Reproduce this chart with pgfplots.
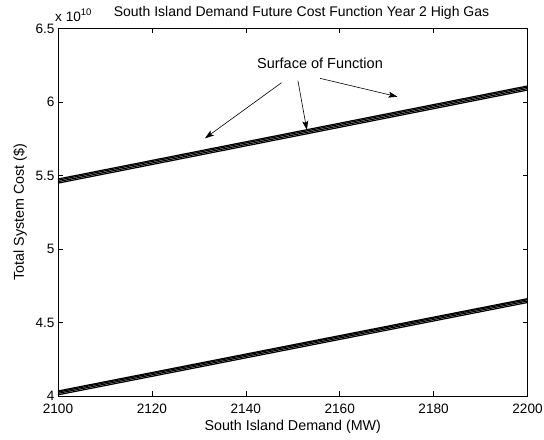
\documentclass[border=0pt]{standalone}
\usepackage{pgfplots}
\pgfplotsset{compat=1.18}
\usepackage{fontspec}
\setmainfont{Liberation Sans}
\usetikzlibrary{arrows.meta}
\begin{document}
\begin{tikzpicture}
\begin{axis}[
  scale only axis,
  width=469.5bp, height=367.5bp,
  xmin=2100, xmax=2200, ymin=4, ymax=6.5,
  xtick={2100,2120,2140,2160,2180,2200},
  ytick={4,4.5,5,5.5,6,6.5},
  scaled ticks=false,
  /pgf/number format/assume math mode=true,
  /pgf/number format/1000 sep={},
  tick align=inside,
  major tick length=5bp,
  axis line style={line width=0.7bp},
  every tick/.style={line width=0.6bp, black},
  font=\fontsize{14bp}{16bp}\selectfont,
  ticklabel style={font=\fontsize{13.6bp}{15bp}\selectfont},
  xticklabel style={yshift=-4bp},
  xlabel={South Island Demand (MW)},
  ylabel={Total System Cost (\$)},
  xlabel style={at={(axis description cs:0.5,-0.0844)}, anchor=center, font=\fontsize{14.3bp}{16bp}\selectfont},
  ylabel style={at={(axis description cs:-0.081,0.5)}, anchor=center, font=\fontsize{14.3bp}{16bp}\selectfont},
  title={South Island Demand Future Cost Function Year 2 High Gas},
  title style={at={(axis description cs:0.5186,1.026)}, anchor=center, font=\fontsize{14bp}{16bp}\selectfont},
  clip mode=individual,
]
% upper band
\addplot[black, line width=1.2bp] coordinates {(2100,5.448) (2200,6.081)};
\addplot[black, line width=1.2bp] coordinates {(2100,5.458) (2200,6.091)};
\addplot[black, line width=1.2bp] coordinates {(2100,5.468) (2200,6.101)};
\addplot[black, line width=1.2bp] coordinates {(2100,5.476) (2200,6.109)};
% lower band
\addplot[black, line width=1.2bp] coordinates {(2100,4.008) (2200,4.636)};
\addplot[black, line width=1.2bp] coordinates {(2100,4.018) (2200,4.646)};
\addplot[black, line width=1.2bp] coordinates {(2100,4.027) (2200,4.655)};
\addplot[black, line width=1.2bp] coordinates {(2100,4.034) (2200,4.662)};
% annotation
\node[font=\fontsize{14.5bp}{16bp}\selectfont] at (axis cs:2155.8,6.265) {Surface of Function};
\draw[-{Stealth[length=9bp,width=6bp,inset=2bp]}, line width=0.6bp] (axis cs:2147.6,6.131) -- (axis cs:2131.3,5.753);
\draw[-{Stealth[length=9bp,width=6bp,inset=2bp]}, line width=0.6bp] (axis cs:2151.1,6.145) -- (axis cs:2153.0,5.810);
\draw[-{Stealth[length=9bp,width=6bp,inset=2bp]}, line width=0.6bp] (axis cs:2155.8,6.161) -- (axis cs:2172.3,6.036);
\node[anchor=south west, inner sep=0pt, font=\fontsize{13.6bp}{15bp}\selectfont] at ([xshift=-3bp,yshift=7bp]rel axis cs:0,1) {x 10$^{\mathrm{10}}$};
\end{axis}
\pgfresetboundingbox
\path ([xshift=-58bp,yshift=-44bp]current axis.south west) rectangle ([xshift=16.5bp,yshift=28.5bp]current axis.north east);
\end{tikzpicture}
\end{document}
